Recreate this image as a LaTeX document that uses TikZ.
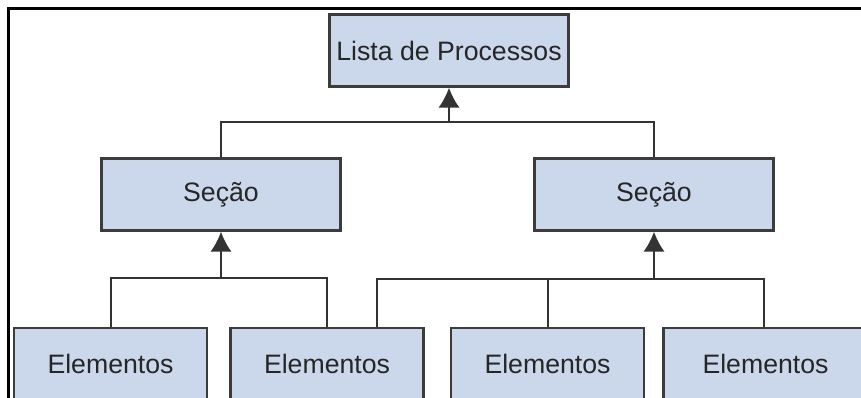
\documentclass[tikz,border=0pt]{standalone}
\usepackage{fontspec}
\setmainfont{Liberation Sans}
\usepackage{tikz}
\usetikzlibrary{arrows.meta}
\usetikzlibrary{positioning}
\definecolor{boxfill}{HTML}{CBD8EB}
\definecolor{boxline}{HTML}{3C3C3C}
\tikzset{auto,>={Latex[length=15pt,width=16pt]}, minimum size=0pt, font=\fontsize{20}{20}\selectfont}
\tikzstyle{block} = [draw=boxline, fill=boxfill, line width=1.8pt, rectangle, minimum height=54pt, minimum width=179pt, inner sep=0pt, text centered, text=black!85]
\tikzstyle{leaf} = [block, minimum width=145pt]
\tikzstyle{wire} = [draw=black!80, line width=1.5pt]
\tikzstyle{input} = [coordinate]

\begin{document}
\begin{tikzpicture}[x=0.75pt, y=0.75pt]
		\useasboundingbox (0,0) rectangle (861,398);
		\draw [line width=2.25pt] (8,-5) |- (870,389);

		\node [block] (lista) at (449,347.5) {Lista de Processos};
		\node [block] (secao-left) at (221,203.5) {Seção};
		\node [block] (secao-right) at (654,203.5) {Seção};
		\node [leaf] (elem-a) at (110.5,34) {Elementos};
		\node [leaf] (elem-b) at (327,34) {Elementos};
		\node [leaf] (elem-c) at (547.5,34) {Elementos};
		\node [leaf, minimum width=153pt] (elem-d) at (765.5,34) {Elementos};

		\node [input] (top-join) at (449,276) {};
		\node [input] (left-join) at (221,120) {};
		\node [input] (right-join) at (654,119) {};

		\draw [wire] (secao-left) |- (top-join) -| (secao-right);
		\draw [wire,->] (top-join) -- (lista);
		\draw [wire] (elem-a) |- (left-join) -| (elem-b);
		\draw [wire,->] (left-join) -- (secao-left);
		\draw [wire] ([xshift=37.5pt]elem-b.north) |- (right-join) -| ([xshift=-1.5pt]elem-d.north);
		\draw [wire] (elem-c) |- (right-join);
		\draw [wire,->] (right-join) -- (secao-right);
	\end{tikzpicture}
\end{document}
